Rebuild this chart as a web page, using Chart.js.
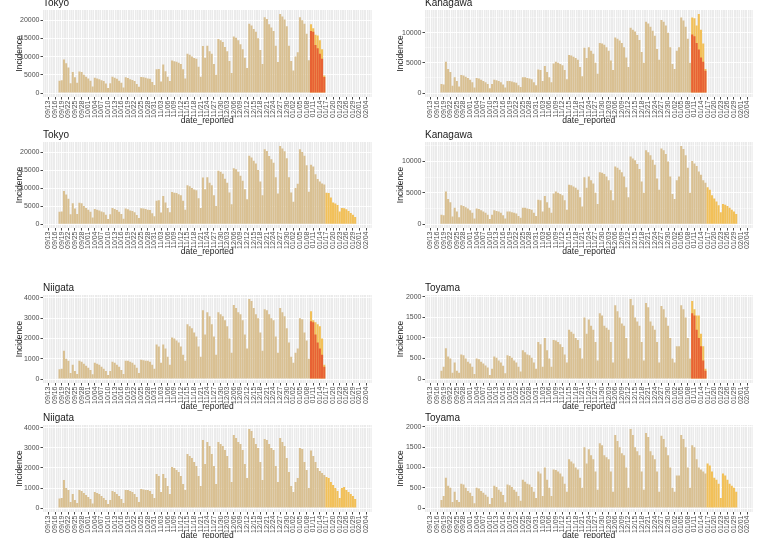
<!DOCTYPE html>
<html>
<head>
<meta charset="utf-8">
<script src="https://cdn.jsdelivr.net/npm/chart.js@4.4.1/dist/chart.umd.min.js"></script>
<style>
  body { margin: 0; background: #fff; width: 761px; height: 538px; overflow: hidden; position: relative; }
  canvas { position: absolute; }
</style>
</head>
<body>
<canvas id="c0"></canvas>
<canvas id="c1"></canvas>
<canvas id="c2"></canvas>
<canvas id="c3"></canvas>
<canvas id="c4"></canvas>
<canvas id="c5"></canvas>
<canvas id="c6"></canvas>
<canvas id="c7"></canvas>
<script>
// daily categories (a couple of empty days either side, like ggplot's expansion)
const dates = [
  '09/11','09/12','09/13','09/14','09/15','09/16','09/17','09/18','09/19','09/20',
  '09/21','09/22','09/23','09/24','09/25','09/26','09/27','09/28','09/29','09/30',
  '10/01','10/02','10/03','10/04','10/05','10/06','10/07','10/08','10/09','10/10',
  '10/11','10/12','10/13','10/14','10/15','10/16','10/17','10/18','10/19','10/20',
  '10/21','10/22','10/23','10/24','10/25','10/26','10/27','10/28','10/29','10/30','10/31',
  '11/01','11/02','11/03','11/04','11/05','11/06','11/07','11/08','11/09','11/10',
  '11/11','11/12','11/13','11/14','11/15','11/16','11/17','11/18','11/19','11/20',
  '11/21','11/22','11/23','11/24','11/25','11/26','11/27','11/28','11/29','11/30',
  '12/01','12/02','12/03','12/04','12/05','12/06','12/07','12/08','12/09','12/10',
  '12/11','12/12','12/13','12/14','12/15','12/16','12/17','12/18','12/19','12/20',
  '12/21','12/22','12/23','12/24','12/25','12/26','12/27','12/28','12/29','12/30','12/31',
  '01/01','01/02','01/03','01/04','01/05','01/06','01/07','01/08','01/09','01/10',
  '01/11','01/12','01/13','01/14','01/15','01/16','01/17','01/18','01/19','01/20',
  '01/21','01/22','01/23','01/24','01/25','01/26','01/27','01/28','01/29','01/30','01/31',
  '02/01','02/02','02/03','02/04','02/05','02/06'
];

const tickDates = [
  '09/13','09/16','09/19','09/22','09/25','09/28','10/01','10/04','10/07','10/10',
  '10/13','10/16','10/19','10/22','10/25','10/28','10/31','11/03','11/06','11/09',
  '11/12','11/15','11/18','11/21','11/24','11/27','11/30','12/03','12/06','12/09',
  '12/12','12/15','12/18','12/21','12/24','12/27','12/30','01/02','01/05','01/08',
  '01/11','01/14','01/17','01/20','01/23','01/26','01/29','02/01','02/04'
];

const obsStart = '09/18';
const lastNowcastObs = '01/09';
const nowStart = '01/10';
const fcStart = '01/17';

// reported cases 09/18 .. 01/16
const tokyoObs = [3400,
  3500, 9200, 8200, 7000, 2700, 5800, 4300,
  2800, 5900, 5800, 5000, 4500, 4000, 3400,
  1800, 4200, 4000, 3800, 3500, 3300, 2600,
  1400, 2700, 4500, 4200, 3900, 3400, 2800,
  1500, 4300, 4100, 3800, 3600, 3300, 2500,
  1700, 4400, 4300, 4200, 4000, 3900, 3000,
  2200, 6500, 6600, 3200, 7800, 6000, 4500,
  3300, 8900, 8700, 8600, 8300, 8000, 6500,
  4000, 10800, 10500, 10000, 9600, 9400, 7200,
  4500, 12900, 9700, 13000, 11500, 10800, 8000,
  5000, 14800, 14500, 14000, 12600, 11500, 8800,
  5500, 15500, 15200, 14500, 13400, 12000, 9700,
  6900, 19000, 18500, 17600, 16800, 15000, 11800,
  8000, 20800, 20300, 18900, 18000, 17000, 13000,
  8500, 21700, 21000, 20200, 18300, 13000, 8800,
  6200, 10000, 11200, 20800, 20000, 19000, 16300,
  9000,
  16500, 16000, 13800, 12500, 11800, 11300, 11000];
const tokyoReported = [17000, 16800, 13200, 12300, 10800, 9400, 4400];
const tokyoNowcast = [18900, 17800, 16000, 15800, 14500, 12000, 4800];
const tokyoForecast = [8700, 8600, 7400, 6000, 5700, 5300, 3500, 4500, 4400, 4100, 3600, 3100, 2600, 2000];

const kanagawaObs = [1500,
  1400, 5200, 4000, 3500, 1200, 2600, 2000,
  1100, 3000, 2900, 2700, 2500, 2200, 1800,
  900, 2500, 2400, 2200, 2000, 1800, 1500,
  800, 1500, 2200, 2100, 2000, 1800, 1400,
  900, 2000, 2000, 1900, 1800, 1700, 1300,
  1000, 2600, 2600, 2500, 2400, 2300, 1800,
  1300, 3900, 3800, 2000, 4500, 3500, 2600,
  1800, 4900, 5200, 5000, 4800, 4600, 3800,
  2300, 6300, 6200, 6000, 5800, 5500, 4300,
  2800, 7500, 5800, 7600, 7000, 6500, 5000,
  3200, 8300, 8200, 8000, 7600, 7000, 5400,
  3800, 9200, 9000, 8700, 8300, 7600, 5900,
  4300, 10800, 10500, 10200, 9600, 8800, 6800,
  5000, 11800, 11500, 11000, 10300, 9500, 7300,
  5500, 12100, 11800, 11200, 10000, 7600, 4800,
  4000, 7000, 7600, 12500, 12000, 11000, 9000,
  5000,
  10100, 9700, 9300, 8400, 7900, 7000, 6600];
const kanagawaReported = [9700, 9400, 8300, 7200, 5900, 5200, 3700];
const kanagawaNowcast = [12500, 12400, 11200, 13100, 10500, 8200, 4000];
const kanagawaForecast = [5900, 5500, 4600, 4100, 3600, 3000, 1900, 3200, 3100, 2900, 2600, 2300, 2000, 1600];

const niigataObs = [480,
  500, 1400, 1000, 900, 300, 700, 400,
  250, 900, 850, 750, 650, 550, 450,
  230, 800, 750, 700, 600, 500, 400,
  200, 400, 850, 800, 700, 600, 450,
  250, 900, 900, 850, 800, 700, 550,
  300, 950, 920, 900, 900, 850, 700,
  500, 1700, 1600, 800, 1700, 1500, 1100,
  700, 2050, 2000, 1900, 1800, 1600, 1200,
  900, 2700, 2600, 2500, 2300, 2100, 1600,
  1100, 3400, 2200, 3300, 3100, 2700, 2100,
  1200, 3300, 3200, 3100, 2900, 2600, 2000,
  1300, 3650, 3500, 3300, 3200, 2900, 2200,
  1500, 3950, 3850, 3500, 3200, 3000, 2300,
  1400, 3450, 3400, 3200, 3000, 2900, 2100,
  1300, 3500, 3300, 3100, 2500, 1800, 1100,
  800, 1300, 1500, 3000, 2950, 2300, 1900,
  1000,
  2870, 2600, 2300, 2000, 1850, 1750, 1650];
const niigataReported = [2850, 2800, 2200, 1800, 1500, 1200, 600];
const niigataNowcast = [3350, 2900, 2800, 2700, 2600, 2000, 700];
const niigataForecast = [1550, 1500, 1300, 1150, 1000, 850, 500, 1000, 1050, 900, 800, 700, 600, 450];

const toyamaObs = [200,
  300, 750, 550, 500, 150, 400, 200,
  150, 600, 580, 500, 420, 380, 300,
  120, 500, 480, 420, 380, 330, 280,
  100, 250, 550, 520, 450, 400, 320,
  140, 580, 560, 520, 450, 400, 300,
  180, 700, 650, 600, 580, 520, 400,
  250, 900, 850, 300, 1000, 700, 500,
  300, 950, 940, 900, 850, 780, 600,
  400, 1200, 1150, 1100, 1000, 950, 750,
  500, 1500, 1100, 1450, 1300, 1200, 900,
  450, 1600, 1550, 1300, 1250, 1200, 900,
  400, 1800, 1650, 1500, 1350, 1300, 1000,
  500, 1950, 1800, 1500, 1400, 1300, 900,
  450, 1850, 1750, 1400, 1300, 1200, 900,
  400, 1780, 1700, 1500, 1300, 1000, 500,
  400, 800, 800, 1800, 1700, 1500, 1000,
  500,
  1550, 1500, 1200, 1000, 950, 900, 850];
const toyamaReported = [1600, 1550, 1200, 1000, 800, 450, 200];
const toyamaNowcast = [1900, 1700, 1550, 1550, 1100, 800, 250];
const toyamaForecast = [1100, 1050, 900, 750, 700, 600, 250, 850, 800, 700, 600, 550, 500, 400];

const TAN = 'rgb(217,192,146)';
const YELLOW = 'rgb(242,192,88)';
const RED = 'rgb(232,98,52)';

function place(values, start) {
  const out = dates.map(() => null);
  const i0 = dates.indexOf(start);
  values.forEach((v, k) => { out[i0 + k] = v; });
  return out;
}

const tickSet = new Set(tickDates);

const panelBg = {
  id: 'panelBg',
  beforeDraw(chart) {
    const a = chart.chartArea, ctx = chart.ctx;
    ctx.save();
    ctx.fillStyle = '#EBEBEB';
    ctx.fillRect(a.left, a.top, a.right - a.left, a.bottom - a.top);
    ctx.restore();
  },
  afterDraw(chart) {
    const a = chart.chartArea, ctx = chart.ctx;
    ctx.save();
    ctx.fillStyle = '#1a1a1a';
    ctx.font = '10px "Liberation Sans", Arial, sans-serif';
    ctx.textBaseline = 'bottom';
    ctx.fillText(chart.options.plugins.panelBg.name, a.left, a.top - 2);
    ctx.restore();
  }
};

function buildPanel(spec) {
  const cv = document.getElementById(spec.id);
  cv.width = spec.width;
  cv.height = spec.height;
  cv.style.left = spec.left + 'px';
  cv.style.top = spec.top + 'px';

  let datasets;
  if (spec.kind === 'now') {
    const cut = dates.indexOf(lastNowcastObs) - dates.indexOf(obsStart) + 1;
    datasets = [
      { data: place(spec.reported, nowStart), backgroundColor: RED },
      { data: place(spec.nowcast, nowStart), backgroundColor: YELLOW },
      { data: place(spec.obs.slice(0, cut), obsStart), backgroundColor: TAN }
    ];
  } else {
    datasets = [
      { data: place(spec.forecast, fcStart), backgroundColor: YELLOW },
      { data: place(spec.obs, obsStart), backgroundColor: TAN }
    ];
  }
  let top = 0;
  datasets.forEach(d => d.data.forEach(v => { if (v != null && v > top) top = v; }));
  const step = spec.step;

  new Chart(cv, {
    type: 'bar',
    data: { labels: dates, datasets: datasets },
    plugins: [panelBg],
    options: {
      responsive: false,
      animation: false,
      devicePixelRatio: 1,
      datasets: { bar: { grouped: false, barPercentage: 0.95, categoryPercentage: 1 } },
      layout: { padding: { top: spec.padTop, right: spec.padRight, left: 0, bottom: 0 } },
      plugins: {
        legend: { display: false },
        tooltip: { enabled: false },
        panelBg: { name: spec.name }
      },
      scales: {
        x: {
          offset: true,
          border: { display: false },
          grid: {
            offset: false,
            color: '#ffffff',
            lineWidth: c => (tickSet.has(dates[c.index]) ? 0.9 : 0.45),
            tickColor: c => (tickSet.has(dates[c.index]) ? '#333' : 'rgba(0,0,0,0)'),
            tickLength: 2.5
          },
          ticks: {
            autoSkip: false,
            minRotation: 90,
            maxRotation: 90,
            padding: 1,
            color: '#4d4d4d',
            font: { size: 7, family: '"Liberation Sans", Arial, sans-serif' },
            callback: (v, i) => (tickSet.has(dates[i]) ? dates[i] : '')
          },
          title: {
            display: true,
            text: 'date_reported',
            color: '#222',
            padding: { top: 0, bottom: 1 },
            font: { size: 8.5, family: '"Liberation Sans", Arial, sans-serif' }
          },
          afterFit: s => { s.height = 30; }
        },
        y: {
          min: -0.05 * top,
          max: 1.05 * top,
          border: { display: false },
          afterBuildTicks: s => {
            const t = [];
            for (let v = 0; v <= s.max; v += step / 2) t.push({ value: v });
            s.ticks = t;
          },
          grid: {
            color: '#ffffff',
            lineWidth: c => (c.tick && c.tick.value % step === 0 ? 0.9 : 0.45),
            tickColor: c => (c.tick && c.tick.value % step === 0 ? '#333' : 'rgba(0,0,0,0)'),
            tickLength: 2.5
          },
          ticks: {
            padding: 1,
            color: '#4d4d4d',
            font: { size: 7, family: '"Liberation Sans", Arial, sans-serif' },
            callback: v => (v % step === 0 ? String(v) : '')
          },
          title: {
            display: true,
            text: 'Incidence',
            color: '#222',
            padding: { top: spec.yTitlePad, bottom: 0 },
            font: { size: 8.5, family: '"Liberation Sans", Arial, sans-serif' }
          },
          afterFit: s => { s.width = spec.yWidth; }
        }
      }
    }
  });
}

const rows = [
  { top: 0, padTop: 10, areaBottom: 97 },
  { top: 130, padTop: 12, areaBottom: 228 },
  { top: 280, padTop: 15, areaBottom: 383 },
  { top: 410, padTop: 15, areaBottom: 512 }
];
const cols = [
  { left: 0, width: 380, yWidth: 43, padRight: 7, yTitlePad: 15 },
  { left: 380, width: 381, yWidth: 45, padRight: 6, yTitlePad: 16 }
];

const prefs = [
  { name: 'Tokyo', step: 5000, obs: tokyoObs, reported: tokyoReported, nowcast: tokyoNowcast, forecast: tokyoForecast, row: 0, col: 0 },
  { name: 'Kanagawa', step: 5000, obs: kanagawaObs, reported: kanagawaReported, nowcast: kanagawaNowcast, forecast: kanagawaForecast, row: 0, col: 1 },
  { name: 'Niigata', step: 1000, obs: niigataObs, reported: niigataReported, nowcast: niigataNowcast, forecast: niigataForecast, row: 2, col: 0 },
  { name: 'Toyama', step: 500, obs: toyamaObs, reported: toyamaReported, nowcast: toyamaNowcast, forecast: toyamaForecast, row: 2, col: 1 }
];

let n = 0;
prefs.forEach(p => {
  ['now', 'fc'].forEach((kind, k) => {
    const r = rows[p.row + k], c = cols[p.col];
    buildPanel(Object.assign({}, p, {
      id: 'c' + (n++),
      kind: kind,
      left: c.left,
      top: r.top,
      width: c.width,
      height: r.areaBottom - r.top + 30,
      padTop: r.padTop,
      padRight: c.padRight,
      yWidth: c.yWidth,
      yTitlePad: c.yTitlePad
    }));
  });
});
</script>
</body>
</html>
